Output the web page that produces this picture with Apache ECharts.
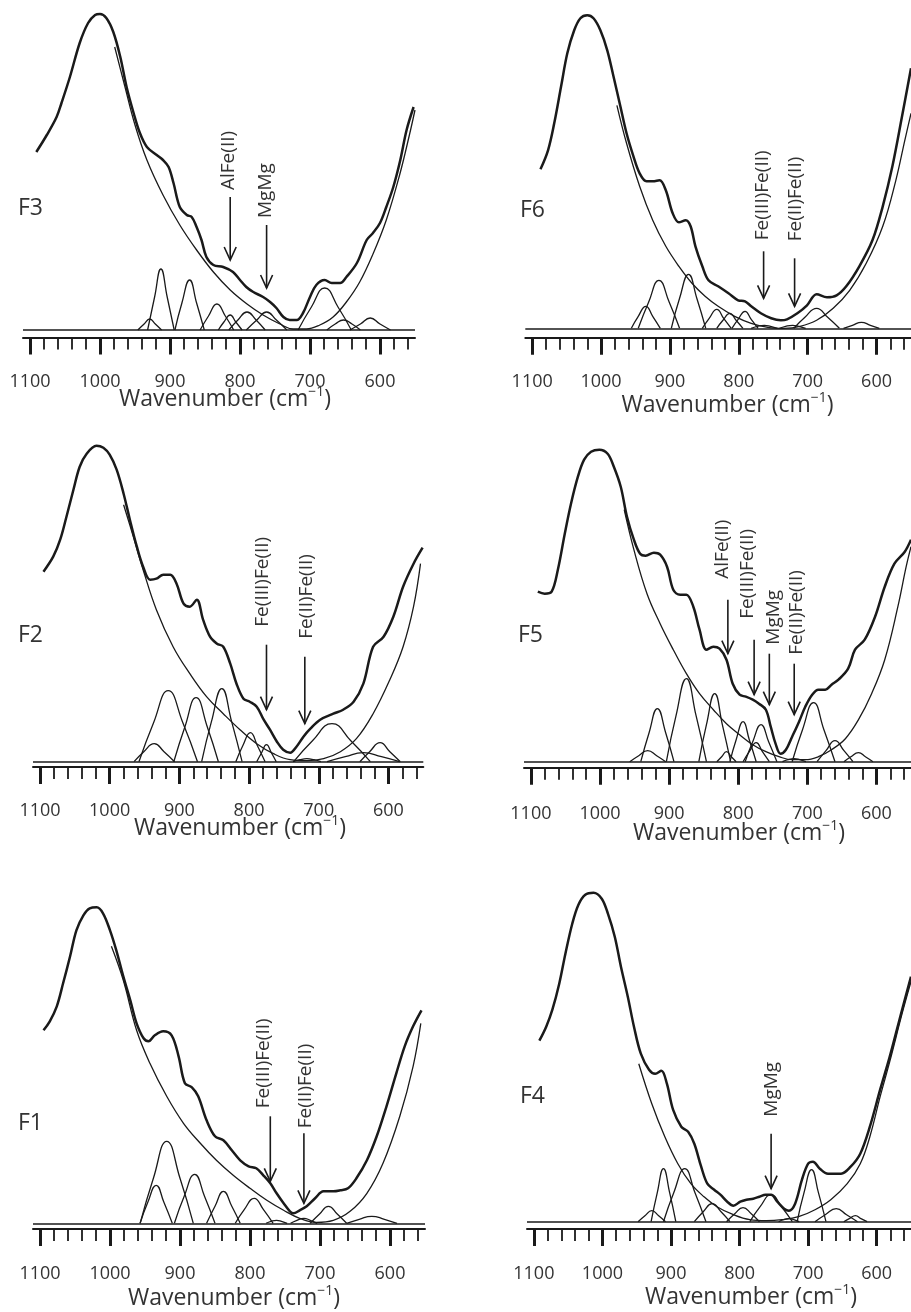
<!DOCTYPE html>
<html>
<head>
<meta charset="utf-8">
<script src="https://cdn.jsdelivr.net/npm/echarts@6/dist/echarts.min.js"></script>
<style>
  html, body { margin: 0; padding: 0; background: #ffffff; }
  #chart { width: 911px; height: 1312px; }
</style>
</head>
<body>
<div id="chart"></div>
<script>
// ---------- axis ticks ----------
const xTickValues = [1100, 1000, 900, 800, 700, 600];
const xTickLabels = ['1100', '1000', '900', '800', '700', '600'];
const xMinorTickValues = [1100,1080,1060,1040,1020,1000,980,960,940,920,900,880,860,840,820,800,780,760,740,720,700,680,660,640,620,600,580,560];

// ---------- F3 ----------
const f3Spectrum = [[1091,178],[1076,195],[1062,213],[1055,227],[1043,253],[1029,287],[1017,307],[1007,315],[1000,316],[991,312],[981,298],[971,273],[962,243],[952,217],[943,197],[933,183],[919,175],[910,170],[902,163],[895,147],[886,123],[876,115],[869,113],[862,103],[855,90],[848,73],[838,65],[824,63],[810,58],[800,50],[791,43],[781,38],[767,33],[757,28],[748,22],[738,13],[729,10],[719,10],[710,17],[700,33],[691,45],[679,50],[669,47],[657,47],[648,53],[633,67],[619,90],[610,97],[600,107],[591,123],[581,143],[571,170],[562,200],[552,223]];
const f3Background = [[979,283],[965,245],[950,205],[933,170],[910,135],[886,105],[862,80],[838,58],[814,40],[790,26],[767,15],[743,6],[724,1],[705,1],[686,5],[667,13],[648,28],[629,48],[610,76],[591,110],[572,155],[558,195],[550,220]];
const f3Components = [
  [[946,0],[937,6],[929,11],[921,6],[912,0]],
  [[932,0],[922,33],[913,61],[904,33],[894,0]],
  [[893,0],[883,27],[872,50],[862,27],[851,0]],
  [[857,0],[845,14],[833,26],[821,14],[809,0]],
  [[831,0],[823,8],[814,15],[806,8],[797,0]],
  [[816,0],[803,10],[790,18],[777,10],[764,0]],
  [[791,0],[776,10],[762,18],[748,10],[733,0]],
  [[717,0],[698,23],[679,42],[660,23],[641,0]],
  [[676,0],[664,6],[652,10],[640,6],[628,0]],
  [[643,0],[628,6],[614,12],[600,6],[585,0]]
];
// [text, arrow wavenumber, arrow top, arrow tip, label wavenumber, label start]
const f3Annotations = [
  ['AlFe(II)', 814, 133, 70, 816, 140],
  ['MgMg', 762, 105, 42, 764, 112]
];

// ---------- F6 ----------
const f6Spectrum = [[1088,159],[1077,178],[1068,205],[1058,242],[1049,275],[1039,298],[1030,310],[1020,313],[1011,310],[1001,298],[991,278],[982,252],[972,222],[963,195],[953,172],[944,155],[934,147],[925,147],[915,148],[906,138],[896,115],[887,106],[877,108],[870,102],[863,82],[853,62],[844,48],[830,42],[815,35],[801,28],[791,27],[782,22],[768,15],[753,10],[739,8],[730,9],[715,15],[701,23],[687,34],[672,31],[658,33],[644,42],[625,62],[606,88],[591,122],[577,162],[563,212],[550,260]];
const f6Background = [[977,223],[963,185],[944,142],[925,108],[906,82],[887,62],[868,45],[849,32],[830,22],[806,12],[782,5],[758,1],[734,0],[711,2],[687,8],[663,20],[639,38],[615,65],[591,102],[572,148],[559,188],[550,215]];
const f6Components = [
  [[956,0],[946,12],[935,22],[925,12],[914,0]],
  [[946,0],[931,26],[916,48],[901,26],[886,0]],
  [[898,0],[886,30],[873,54],[861,30],[848,0]],
  [[853,0],[843,10],[832,19],[822,10],[811,0]],
  [[832,0],[823,8],[813,15],[804,8],[794,0]],
  [[810,0],[801,9],[791,17],[782,9],[772,0]],
  [[782,0],[773,2],[763,3],[754,2],[744,0]],
  [[741,0],[732,2],[722,3],[713,2],[703,0]],
  [[720,0],[704,11],[687,20],[671,11],[654,0]],
  [[648,0],[635,3],[622,6],[609,3],[596,0]]
];
const f6Annotations = [
  ['Fe(III)Fe(II)', 764, 77, 30, 765, 88],
  ['Fe(II)Fe(II)', 719, 70, 22, 718, 87]
];

// ---------- F2 ----------
const f2Spectrum = [[1095,190],[1081,205],[1071,222],[1062,245],[1052,272],[1043,295],[1033,308],[1019,316],[1009,314],[1000,307],[990,292],[980,268],[971,242],[961,215],[952,195],[942,182],[933,183],[923,187],[913,187],[904,178],[894,158],[885,155],[875,162],[866,142],[856,125],[846,118],[837,115],[827,98],[818,78],[808,63],[799,60],[789,55],[779,42],[770,32],[760,20],[751,12],[741,9],[732,15],[722,25],[712,33],[698,42],[679,48],[665,52],[650,60],[636,78],[622,115],[607,125],[593,145],[579,175],[564,198],[551,214]];
const f2Background = [[980,257],[966,225],[952,192],[933,152],[909,115],[885,88],[861,65],[837,48],[813,32],[789,18],[765,8],[741,2],[717,1],[693,3],[669,10],[646,23],[622,48],[598,82],[579,115],[564,155],[554,198]];
const f2Components = [
  [[965,0],[951,10],[936,18],[922,10],[907,0]],
  [[958,0],[937,39],[916,71],[895,39],[874,0]],
  [[908,0],[892,35],[876,64],[860,35],[844,0]],
  [[868,0],[854,40],[839,73],[825,40],[810,0]],
  [[819,0],[809,16],[798,29],[788,16],[777,0]],
  [[789,0],[782,9],[775,17],[768,9],[761,0]],
  [[737,0],[727,2],[717,3],[707,2],[697,0]],
  [[736,0],[709,21],[681,38],[654,21],[626,0]],
  [[688,0],[662,5],[636,9],[610,5],[584,0]],
  [[641,0],[627,10],[612,19],[598,10],[583,0]]
];
const f2Annotations = [
  ['Fe(III)Fe(II)', 775, 117, 52, 780, 135],
  ['Fe(II)Fe(II)', 720, 105, 38, 717, 123]
];

// ---------- F5 ----------
const f5Spectrum = [[1090,170],[1080,168],[1070,170],[1061,192],[1051,228],[1042,258],[1032,285],[1023,302],[1013,310],[1001,312],[989,308],[980,295],[970,275],[961,245],[951,222],[942,208],[934,206],[922,209],[913,207],[903,195],[894,172],[884,167],[875,167],[865,155],[856,132],[846,112],[836,115],[827,113],[817,102],[808,78],[798,67],[789,65],[779,62],[770,58],[760,52],[753,35],[746,18],[739,8],[731,12],[722,25],[712,40],[703,55],[693,67],[684,72],[674,72],[665,77],[655,82],[641,93],[631,112],[617,122],[602,145],[588,175],[574,198],[559,210],[550,222]];
const f5Background = [[965,252],[951,212],[932,168],[913,138],[894,112],[875,88],[856,68],[836,52],[817,38],[798,27],[779,17],[760,10],[741,5],[722,2],[703,2],[684,5],[665,12],[645,23],[626,42],[607,68],[588,102],[569,155],[557,195],[550,215]];
const f5Components = [
  [[957,0],[944,6],[931,11],[918,6],[905,0]],
  [[941,0],[929,29],[917,53],[905,29],[893,0]],
  [[904,0],[890,46],[875,83],[861,46],[846,0]],
  [[857,0],[846,37],[834,68],[823,37],[811,0]],
  [[831,0],[824,5],[817,10],[810,5],[803,0]],
  [[812,0],[803,22],[793,40],[784,22],[774,0]],
  [[793,0],[784,10],[774,19],[765,10],[755,0]],
  [[790,0],[779,20],[767,37],[756,20],[744,0]],
  [[736,0],[728,2],[719,3],[711,2],[702,0]],
  [[722,0],[707,32],[691,59],[676,32],[660,0]],
  [[686,0],[673,11],[660,21],[647,11],[634,0]],
  [[647,0],[637,5],[626,9],[616,5],[605,0]]
];
const f5Annotations = [
  ['AlFe(II)', 815, 162, 108, 823, 183],
  ['Fe(III)Fe(II)', 777, 122, 67, 786, 143],
  ['MgMg', 755, 108, 57, 749, 117],
  ['Fe(II)Fe(II)', 719, 98, 47, 716, 107]
];

// ---------- F1 ----------
const f1Spectrum = [[1095,193],[1086,202],[1076,217],[1067,240],[1057,267],[1048,293],[1038,308],[1029,315],[1019,316],[1010,310],[1000,293],[991,273],[981,247],[971,223],[962,200],[952,185],[945,182],[936,188],[924,192],[912,188],[902,167],[893,140],[883,136],[874,127],[862,103],[850,87],[838,83],[826,73],[814,63],[802,57],[791,55],[781,48],[771,40],[762,30],[752,20],[743,12],[738,10],[729,13],[719,17],[707,25],[695,32],[681,32],[671,33],[660,35],[648,45],[633,63],[619,87],[605,117],[591,150],[579,177],[567,197],[555,213]];
const f1Background = [[998,277],[981,243],[962,193],[943,160],[919,127],[895,100],[871,80],[848,63],[824,48],[800,35],[776,23],[752,13],[729,5],[705,1],[681,3],[657,12],[633,30],[610,60],[586,107],[567,157],[556,200]];
const f1Components = [
  [[957,0],[946,21],[934,38],[923,21],[911,0]],
  [[957,0],[938,45],[919,82],[900,45],[881,0]],
  [[908,0],[894,27],[879,49],[865,27],[850,0]],
  [[862,0],[850,17],[838,32],[826,17],[814,0]],
  [[821,0],[808,14],[794,25],[781,14],[767,0]],
  [[777,0],[770,2],[762,3],[755,2],[747,0]],
  [[742,0],[733,3],[723,5],[714,3],[704,0]],
  [[714,0],[701,9],[688,17],[675,9],[662,0]],
  [[662,0],[644,4],[626,7],[608,4],[590,0]]
];
const f1Annotations = [
  ['Fe(III)Fe(II)', 771, 107, 42, 781, 115],
  ['Fe(II)Fe(II)', 723, 90, 20, 720, 95]
];

// ---------- F4 ----------
const f4Spectrum = [[1092,181],[1082,195],[1073,212],[1063,238],[1054,268],[1044,298],[1035,317],[1025,327],[1013,329],[1001,323],[992,308],[982,285],[973,255],[963,225],[954,195],[944,168],[932,152],[923,148],[914,151],[906,138],[897,112],[885,95],[875,90],[866,78],[856,55],[847,38],[837,32],[828,27],[818,20],[809,16],[799,20],[790,22],[780,23],[771,25],[762,27],[754,27],[745,20],[735,13],[728,11],[719,18],[709,42],[700,58],[693,60],[683,53],[671,48],[652,48],[638,55],[624,68],[610,95],[595,132],[581,165],[563,212],[550,245]];
const f4Background = [[947,158],[928,118],[909,85],[890,58],[871,38],[852,25],[833,15],[809,7],[785,2],[761,1],[738,2],[714,5],[690,12],[667,22],[643,38],[624,58],[610,85],[595,125],[581,160],[563,208],[550,240]];
const f4Components = [
  [[948,0],[938,6],[928,11],[918,6],[908,0]],
  [[929,0],[920,29],[911,53],[902,29],[893,0]],
  [[911,0],[896,29],[880,53],[865,29],[849,0]],
  [[866,0],[853,10],[840,18],[827,10],[814,0]],
  [[819,0],[807,8],[795,14],[783,8],[771,0]],
  [[785,0],[770,15],[754,27],[739,15],[723,0]],
  [[743,0],[736,2],[728,3],[721,2],[713,0]],
  [[716,0],[706,29],[695,52],[685,29],[674,0]],
  [[690,0],[675,7],[659,13],[644,7],[628,0]],
  [[648,0],[640,3],[631,6],[623,3],[614,0]]
];
const f4Annotations = [
  ['MgMg', 754, 88, 33, 754, 105]
];

// ---------- layout (pixels) ----------
const panelLayout = [
  { name: 'F3', spectrum: f3Spectrum, background: f3Background, components: f3Components, annotations: f3Annotations,
    left: 23, width: 392, baseline: 330, axis: 337.5, yMax: 325, labelX: 18, labelY: 208.5, titleX: 225, titleY: 399, labelMargin: 35 },
  { name: 'F6', spectrum: f6Spectrum, background: f6Background, components: f6Components, annotations: f6Annotations,
    left: 525.3, width: 392, baseline: 328.3, axis: 337.7, yMax: 325, labelX: 520, labelY: 210.5, titleX: 727.5, titleY: 405, labelMargin: 35 },
  { name: 'F2', spectrum: f2Spectrum, background: f2Background, components: f2Components, annotations: f2Annotations,
    left: 33, width: 390.3, baseline: 761.7, axis: 767, yMax: 340, labelX: 18, labelY: 635, titleX: 240, titleY: 828, labelMargin: 35 },
  { name: 'F5', spectrum: f5Spectrum, background: f5Background, components: f5Components, annotations: f5Annotations,
    left: 524, width: 390.9, baseline: 761.7, axis: 767.7, yMax: 340, labelX: 518, labelY: 635.5, titleX: 739, titleY: 833, labelMargin: 37 },
  { name: 'F1', spectrum: f1Spectrum, background: f1Background, components: f1Components, annotations: f1Annotations,
    left: 33, width: 392, baseline: 1223.3, axis: 1229, yMax: 340, labelX: 18, labelY: 1123.5, titleX: 234, titleY: 1298, labelMargin: 36 },
  { name: 'F4', spectrum: f4Spectrum, background: f4Background, components: f4Components, annotations: f4Annotations,
    left: 527, width: 393, baseline: 1221.7, axis: 1229, yMax: 340, labelX: 520, labelY: 1096.5, titleX: 751, titleY: 1297, labelMargin: 36 }
];

const INK = '#1a1a1a';
const TEXT = '#333333';
const FONT = 'Open Sans';

const grids = [], xAxes = [], yAxes = [], series = [], graphics = [];

panelLayout.forEach((p, i) => {
  const top = p.baseline - p.yMax;
  const height = p.axis - top;
  const yMin = p.baseline - p.axis;
  grids.push({ left: p.left, top: top, width: p.width, height: height, containLabel: false });

  // major axis: line, long ticks, labels
  xAxes.push({
    type: 'value', gridIndex: i, min: 550, max: 1110, inverse: true, position: 'bottom',
    axisLine: { show: true, onZero: false, lineStyle: { color: INK, width: 2 } },
    axisTick: { show: true, customValues: xTickValues, length: 17, lineStyle: { color: INK, width: 3 } },
    axisLabel: {
      show: true, customValues: xTickValues, margin: p.labelMargin,
      formatter: v => xTickLabels[xTickValues.indexOf(v)] || '',
      color: TEXT, fontSize: 18, fontFamily: FONT
    },
    splitLine: { show: false }
  });
  // minor axis: short ticks every 20
  xAxes.push({
    type: 'value', gridIndex: i, min: 550, max: 1110, inverse: true, position: 'bottom',
    axisLine: { show: false, onZero: false },
    axisTick: { show: true, customValues: xMinorTickValues, length: 12, lineStyle: { color: INK, width: 1.8 } },
    axisLabel: { show: false },
    splitLine: { show: false }
  });
  yAxes.push({ type: 'value', gridIndex: i, min: yMin, max: p.yMax, show: false });

  const xi = 2 * i;
  p.components.forEach((c) => {
    series.push({
      type: 'line', xAxisIndex: xi, yAxisIndex: i, data: c, smooth: 0.5, showSymbol: false,
      lineStyle: { color: INK, width: 1.3 }, silent: true, z: 2
    });
  });
  series.push({
    type: 'line', xAxisIndex: xi, yAxisIndex: i, data: p.background, smooth: 0.4, showSymbol: false,
    lineStyle: { color: INK, width: 1.3 }, silent: true, z: 3,
    markLine: {
      silent: true, symbol: 'none', label: { show: false },
      lineStyle: { type: 'solid', color: INK, width: 1.6 },
      data: [{ yAxis: 0 }]
    }
  });
  series.push({
    type: 'line', xAxisIndex: xi, yAxisIndex: i, data: p.spectrum, smooth: 0.35, showSymbol: false,
    lineStyle: { color: INK, width: 2.5 }, silent: true, z: 4
  });
  const ann = p.annotations;
  series.push({
    type: 'custom', xAxisIndex: xi, yAxisIndex: i, silent: true, z: 5,
    data: ann.map(a => [a[1], a[2], a[3], a[4], a[5]]),
    renderItem: function (params, api) {
      const a = ann[params.dataIndex];
      const topPt = api.coord([a[1], a[2]]);
      const tip = api.coord([a[1], a[3]]);
      const lab = api.coord([a[4], a[5]]);
      return {
        type: 'group',
        children: [
          { type: 'line', shape: { x1: topPt[0], y1: topPt[1], x2: tip[0], y2: tip[1] },
            style: { stroke: INK, lineWidth: 1.6 } },
          { type: 'polyline', shape: { points: [[tip[0] - 6, tip[1] - 13], [tip[0], tip[1]], [tip[0] + 6, tip[1] - 13]] },
            style: { stroke: INK, lineWidth: 1.6, fill: 'none' } },
          { type: 'text', x: lab[0], y: lab[1], rotation: Math.PI / 2,
            style: { text: a[0], fill: TEXT, fontSize: 19, fontFamily: FONT, align: 'left', verticalAlign: 'middle' } }
        ]
      };
    }
  });

  graphics.push({
    type: 'text', x: p.labelX, y: p.labelY,
    style: { text: p.name, fill: TEXT, fontSize: 23, fontFamily: FONT, align: 'left', verticalAlign: 'middle' }
  });
  graphics.push({
    type: 'text', x: p.titleX, y: p.titleY,
    style: {
      text: '{a|Wavenumber (cm}{s|\u22121}{a|)}',
      align: 'center', verticalAlign: 'middle',
      rich: {
        a: { fill: TEXT, fontSize: 23, fontFamily: FONT, lineHeight: 27, verticalAlign: 'middle' },
        s: { fill: TEXT, fontSize: 14, fontFamily: FONT, lineHeight: 14, verticalAlign: 'top' }
      }
    }
  });
});

const chart = echarts.init(document.getElementById('chart'), null, { renderer: 'canvas' });
chart.setOption({
  animation: false,
  backgroundColor: '#ffffff',
  grid: grids,
  xAxis: xAxes,
  yAxis: yAxes,
  series: series,
  graphic: graphics
});
</script>
</body>
</html>
